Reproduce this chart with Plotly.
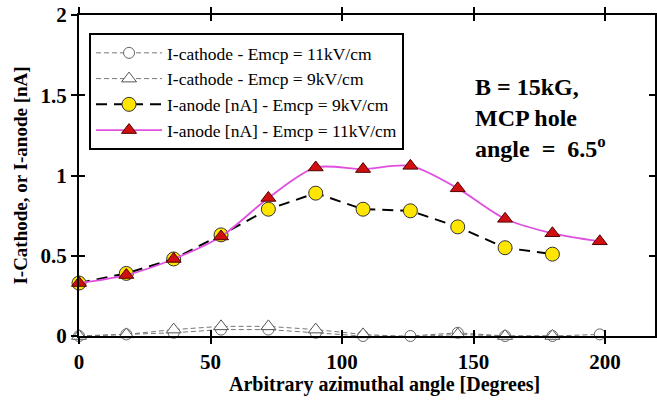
import plotly.graph_objects as go

angles = [0, 18, 36, 54, 72, 90, 108, 126, 144, 162, 180, 198]
cath_11 = [0.0, 0.01, 0.02, 0.04, 0.04, 0.02, 0.0, 0.0, 0.02, 0.0, 0.0, 0.01]
cath_9 = [0.0, 0.01, 0.04, 0.06, 0.06, 0.04, 0.01, -0.005, 0.01, 0.0, 0.0]
anode_9 = [0.33, 0.39, 0.48, 0.63, 0.79, 0.89, 0.79, 0.78, 0.68, 0.55, 0.51]
anode_11 = [0.33, 0.38, 0.48, 0.62, 0.86, 1.05, 1.04, 1.06, 0.92, 0.73, 0.64, 0.59]
x_ticks = [0, 50, 100, 150, 200]
y_ticks = [0, 0.5, 1, 1.5, 2]

serif = "Liberation Serif, Times New Roman, DejaVu Serif, serif"

fig = go.Figure()
fig.add_trace(go.Scatter(
    x=angles, y=cath_11, mode="lines+markers", name="I-cathode - Emcp = 11kV/cm",
    line=dict(color="#777777", width=1, dash="5px,3px"),
    marker=dict(symbol="circle", size=11, color="white", line=dict(color="#666666", width=1)),
    cliponaxis=False))
fig.add_trace(go.Scatter(
    x=angles[:len(cath_9)], y=cath_9, mode="lines+markers", name="I-cathode - Emcp = 9kV/cm",
    line=dict(color="#777777", width=1, dash="5px,3px"),
    marker=dict(symbol="triangle-up", size=13, color="white", line=dict(color="#555555", width=1)),
    cliponaxis=False))
fig.add_trace(go.Scatter(
    x=angles[:len(anode_9)], y=anode_9, mode="lines+markers", name="I-anode [nA] - Emcp = 9kV/cm",
    line=dict(color="black", width=2, dash="11px,7px"),
    marker=dict(symbol="circle", size=14, color="#ffe600", line=dict(color="#333333", width=1)),
    cliponaxis=False))
fig.add_trace(go.Scatter(
    x=angles, y=anode_11, mode="lines+markers", name="I-anode [nA] - Emcp = 11kV/cm",
    line=dict(color="#e050e0", width=1.8, shape="spline", smoothing=0.8),
    marker=dict(symbol="triangle-up", size=13, color="#d01010", line=dict(color="#500000", width=1)),
    cliponaxis=False))

axis_common = dict(showgrid=False, zeroline=False, showline=True, linecolor="black", linewidth=2,
                   ticks="outside", ticklen=6, tickwidth=2, tickcolor="black", mirror="ticks",
                   automargin=False,
                   tickfont=dict(family=serif, size=21, color="black"))
inner_common = dict(showticklabels=False, ticks="inside", ticklen=6, tickwidth=2, tickcolor="black",
                    showline=False, showgrid=False, zeroline=False, mirror="ticks", automargin=False)

fig.update_layout(
    width=657, height=408,
    margin=dict(l=79, r=2, t=15, b=72, autoexpand=False),
    paper_bgcolor="white", plot_bgcolor="white",
    font=dict(family=serif, color="black"),
    xaxis=dict(range=[0, 219], tickmode="array", tickvals=x_ticks,
               ticktext=["<b>%d</b>" % v for v in x_ticks],
               **axis_common),
    yaxis=dict(range=[0, 2], tickmode="array", tickvals=y_ticks,
               ticktext=["<b>%g</b>" % v for v in y_ticks],
               title=dict(text="<b>I-Cathode, or I-anode [nA]</b>", font=dict(family=serif, size=19), standoff=8),
               **axis_common),
    xaxis2=dict(overlaying="x", matches="x", range=[0, 219], tickmode="array", tickvals=x_ticks, **inner_common),
    yaxis2=dict(overlaying="y", matches="y", range=[0, 2], tickmode="array", tickvals=y_ticks, **inner_common),
    legend=dict(x=0.0174, y=0.944, xanchor="left", yanchor="top",
                bordercolor="black", borderwidth=2, bgcolor="white",
                font=dict(family=serif, size=17.5, color="black"),
                tracegroupgap=0, itemwidth=66),
    showlegend=True,
)

fig.add_trace(go.Scatter(x=[0], y=[-1], xaxis="x2", yaxis="y2", mode="markers",
                         marker=dict(opacity=0), showlegend=False, hoverinfo="skip"))

fig.add_annotation(
    x=0.53, y=-0.15, xref="paper", yref="paper", xanchor="center", yanchor="middle",
    text="<b>Arbitrary azimuthal angle [Degrees]</b>", showarrow=False,
    font=dict(family=serif, size=20, color="black"))

fig.add_annotation(
    x=0.684, y=0.822, xref="paper", yref="paper", xanchor="left", yanchor="top",
    text="<b>B = 15kG,<br>MCP hole<br>angle  =  6.5<sup>o</sup></b>",
    showarrow=False, align="left",
    font=dict(family=serif, size=24, color="black"))

fig.write_html("out.html", config={"displayModeBar": False},
               post_script="document.body.style.margin='0';")
